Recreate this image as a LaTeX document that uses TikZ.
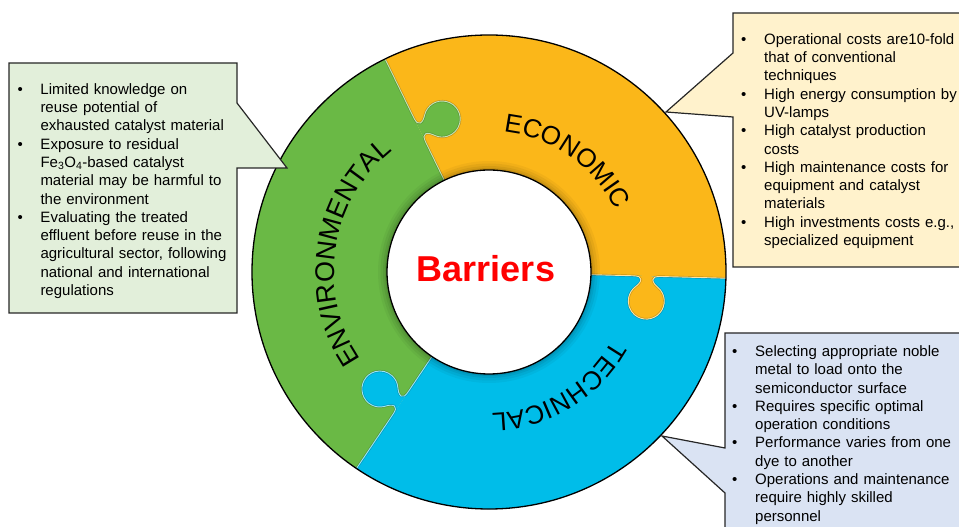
\documentclass[tikz,border=0pt]{standalone}
\usepackage{fontspec}
\setmainfont{Liberation Sans}
\usetikzlibrary{decorations.text}

\definecolor{envgreen}{HTML}{6AB945}
\definecolor{ecoorange}{HTML}{FBB719}
\definecolor{techblue}{HTML}{00BDE9}
\definecolor{envfill}{HTML}{E2EFDA}
\definecolor{ecofill}{HTML}{FFF2CC}
\definecolor{techfill}{HTML}{DAE3F3}

% bullet list item with hanging indent
\newlength\bulw
\setlength\bulw{23pt}
\newcommand\bitem[1]{\hangindent=\bulw\hangafter=1\relax\makebox[\bulw][l]{\textbullet}#1\par}

\newcommand\ringfont{\fontsize{26}{30}\selectfont}
\newcommand\ringfontbig{\fontsize{27}{30}\selectfont}

% puzzle tab on the border at angle #1, in colour #2 (tab points clockwise)
\newcommand\jigknob[2]{%
  \begin{scope}[shift={(C)}, rotate=#1, xshift=158pt]
    \fill[#2] (15,0) .. controls (8,0) and (6,-1) .. (6,-3.5)
      .. controls (6,-6.5) and (9.3,-9.3) .. (11.57,-11.21)
      arc[start angle=50, end angle=-230, radius=18pt]
      .. controls (-9.3,-9.3) and (-6,-6.5) .. (-6,-3.5)
      .. controls (-6,-1) and (-8,0) .. (-15,0) -- cycle;
    \draw[black, opacity=.2, line width=2.2pt] (79,0) -- (15,0) .. controls (8,0) and (6,-1) .. (6,-3.5)
      .. controls (6,-6.5) and (9.3,-9.3) .. (11.57,-11.21)
      arc[start angle=50, end angle=-230, radius=18pt]
      .. controls (-9.3,-9.3) and (-6,-6.5) .. (-6,-3.5)
      .. controls (-6,-1) and (-8,0) .. (-15,0) -- (-56,0);
    \draw[#2!40!white, line width=.9pt] (79,0) -- (15,0) .. controls (8,0) and (6,-1) .. (6,-3.5)
      .. controls (6,-6.5) and (9.3,-9.3) .. (11.57,-11.21)
      arc[start angle=50, end angle=-230, radius=18pt]
      .. controls (-9.3,-9.3) and (-6,-6.5) .. (-6,-3.5)
      .. controls (-6,-1) and (-8,0) .. (-15,0) -- (-56,0);
  \end{scope}}

\begin{document}
\begin{tikzpicture}[x=1pt, y=1pt,
  callout/.style={draw=black!85, line width=1.2pt, line join=miter},
  boxtext/.style={inner sep=0pt, anchor=base west, text width=240pt, align=left,
    font=\fontsize{15}{18.3}\selectfont},
  ringlabel/.style={decorate, decoration={text along path, text align=center, text={#1}}}]

\useasboundingbox (0,0) rectangle (959,527);
\coordinate (C) at (489,255);

% ring pieces
\begin{scope}[shift={(C)}]
  \fill[ecoorange] (0,0) -- (-1.5:237) arc[start angle=-1.5, end angle=116, radius=237pt] -- cycle;
  \fill[envgreen] (0,0) -- (116:237) arc[start angle=116, end angle=236, radius=237pt] -- cycle;
  \fill[techblue] (0,0) -- (236:237) arc[start angle=236, end angle=358.5, radius=237pt] -- cycle;
\end{scope}

% interlocking tabs
\jigknob{-1.5}{ecoorange}
\jigknob{116}{envgreen}
\jigknob{236}{techblue}

% soft shadow round the hub
\foreach \w/\o in {18/0.04, 13/0.05, 8/0.06, 4/0.08}
  \draw[black, opacity=\o, line width=\w pt] (C) circle[radius=102pt];

% hub and rim
\fill[white] (C) circle[radius=102pt];
\draw[black, line width=1.3pt] (C) circle[radius=102pt];
\draw[black, line width=1.3pt] (C) circle[radius=237pt];

% curved labels
\begin{scope}[shift={(C)}]
  \path[ringlabel={|\ringfont|ECONOMIC}] (85:141) arc[start angle=85, end angle=25, radius=141pt];
  \path[ringlabel={|\ringfont|TECHNICAL}] (-29:141) arc[start angle=-29, end angle=-89, radius=141pt];
  \path[ringlabel={|\ringfontbig|ENVIRONMENTAL}] (216:155) arc[start angle=216, end angle=127, radius=155pt];
\end{scope}

\node[font=\fontsize{36}{40}\selectfont\bfseries, text=red, anchor=base, inner sep=0pt] (barriers) at (486,245.3) {Barriers};

% call-out boxes
\draw[callout, fill=envfill] (9,464) -- (237,464) -- (237,424) -- (287,359) -- (237,359) -- (237,214) -- (9,214) -- cycle;
\draw[callout, fill=ecofill] (733,514) -- (970,514) -- (970,260) -- (733,260) -- (733,410) -- (666,415) -- (733,474) -- cycle;
\draw[callout, fill=techfill] (725,194) -- (970,194) -- (970,-8) -- (725,-8) -- (725,34) -- (662,91) -- (725,79) -- cycle;

\node[boxtext] (envtext) at (17.3,432.7) {%
  \bitem{Limited knowledge on\newline reuse potential of\newline exhausted catalyst material}%
  \bitem{Exposure to residual\newline Fe\textsubscript{3}O\textsubscript{4}-based catalyst\newline material may be harmful to\newline the environment}%
  \bitem{Evaluating the treated\newline effluent before reuse in the\newline agricultural sector, following\newline national and international\newline regulations}};

\node[boxtext] (ecotext) at (741,482.7) {%
  \bitem{Operational costs are10-fold\newline that of conventional\newline techniques}%
  \bitem{High energy consumption by\newline UV-lamps}%
  \bitem{High catalyst production\newline costs}%
  \bitem{High maintenance costs for\newline equipment and catalyst\newline materials}%
  \bitem{High investments costs e.g.,\newline specialized equipment}};

\node[boxtext] (techtext) at (732,170.5) {%
  \bitem{Selecting appropriate noble\newline metal to load onto the\newline semiconductor surface}%
  \bitem{Requires specific optimal\newline operation conditions}%
  \bitem{Performance varies from one\newline dye to another}%
  \bitem{Operations and maintenance\newline require highly skilled\newline personnel}};

\end{tikzpicture}
\end{document}
